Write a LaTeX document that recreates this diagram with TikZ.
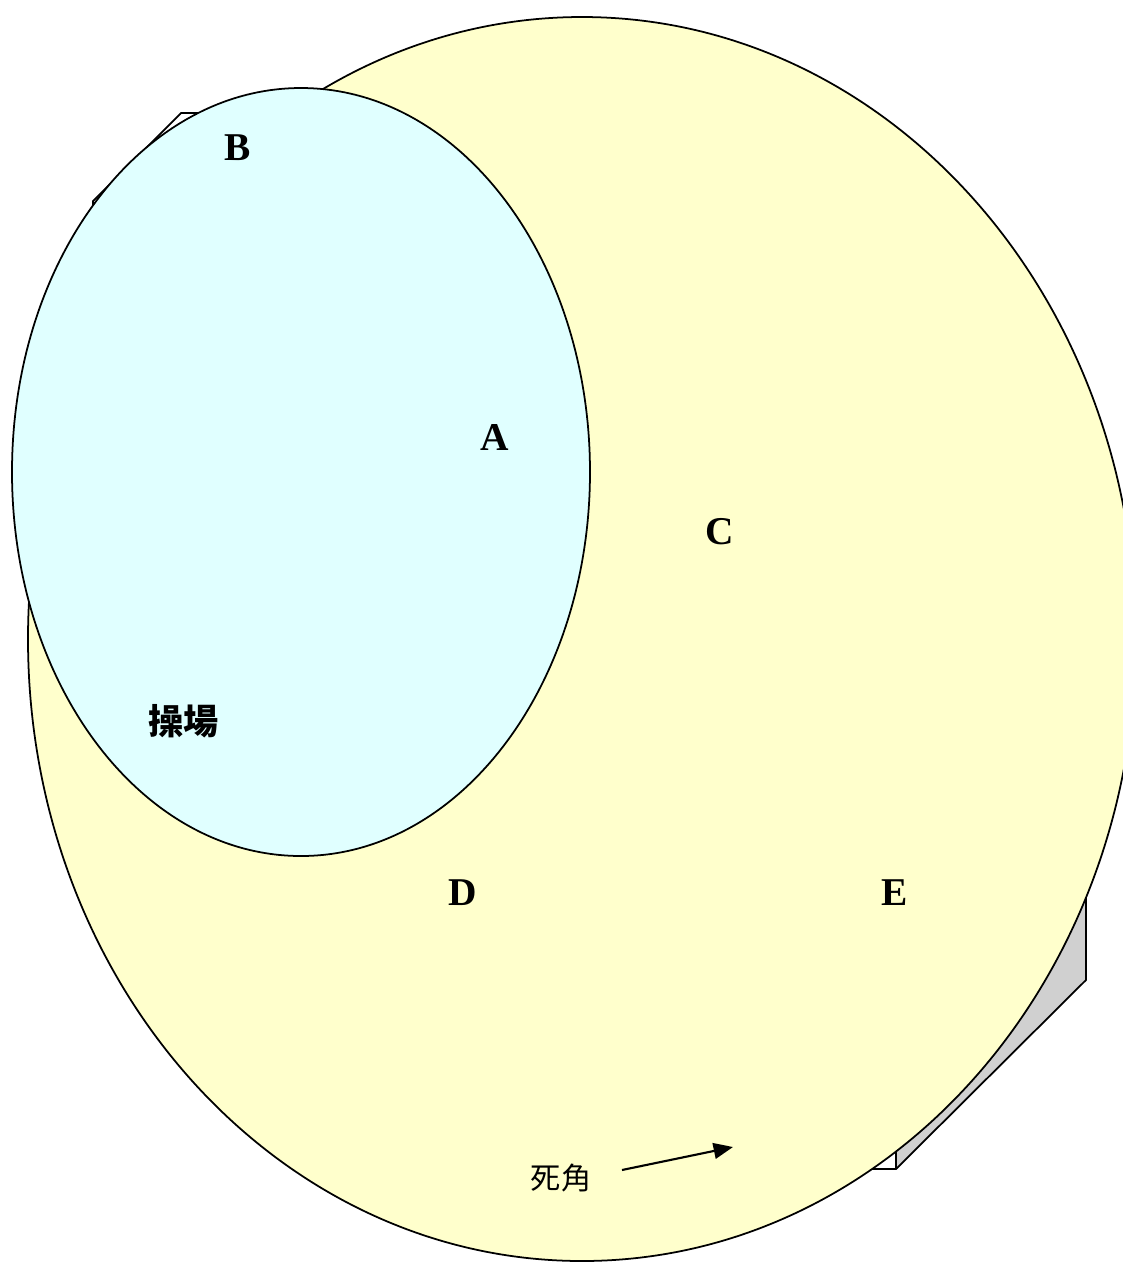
\documentclass[tikz,border=0pt]{standalone}
\usepackage{fontspec}
\setmainfont{Liberation Serif}
\newfontfamily\cjkfont{Noto Sans CJK TC}
\usetikzlibrary{arrows.meta}
\definecolor{field}{HTML}{FFFFCC}
\definecolor{court}{HTML}{E0FFFF}
\definecolor{wall}{HTML}{D0D0D0}
\definecolor{ink}{HTML}{000000}

\begin{document}
\begin{tikzpicture}[x=0.01cm, y=-0.01cm, line join=round,
    outline/.style={draw=ink, line width=0.5pt},
    letter/.style={font=\bfseries\fontsize{11.2}{13}\selectfont, inner sep=0pt},
    zone/.style={font=\cjkfont\fontsize{8.6}{10}\selectfont, inner sep=0pt}]

  \clip (0,0) rectangle (1123,1262);

  % box behind the field (mostly hidden)
  \draw[outline, fill=white] (93,201) -- (181,113) -- (650,113) -- (1040,500) -- (1040,880)
    -- (870,1140) -- (350,1140) -- (93,880) -- cycle;
  \draw[outline, fill=white] (840,1130) -- (896,1130) -- (896,1169) -- (840,1169) -- cycle;
  \draw[outline, fill=wall] (1040,860) -- (1086,860) -- (1086,980) -- (896,1169) -- (896,1120) -- cycle;

  % field and playground
  \draw[outline, fill=field] (582,639) ellipse [x radius=554, y radius=622];
  \draw[outline, fill=court] (301,472) ellipse [x radius=289, y radius=384];

  % labels
  \node[letter] (nB) at (238,148) {B};
  \node[letter] (nA) at (495,437) {A};
  \node[letter] (nC) at (720,532) {C};
  \node[letter] (nD) at (463,893) {D};
  \node[letter] (nE) at (895,893) {E};
  \node[zone, font=\cjkfont\bfseries\fontsize{10}{12}\selectfont] (court) at (184,721) {操場};
  \node[zone] (blind) at (561,1178) {死角};

  % arrow to the blind spot
  \coordinate (tail) at (622,1170);
  \coordinate (tip) at (733,1147);
  \draw[-{Triangle[length=5.5pt, width=4.5pt]}, ink, line width=0.6pt] (tail) -- (tip);
\end{tikzpicture}
\end{document}
